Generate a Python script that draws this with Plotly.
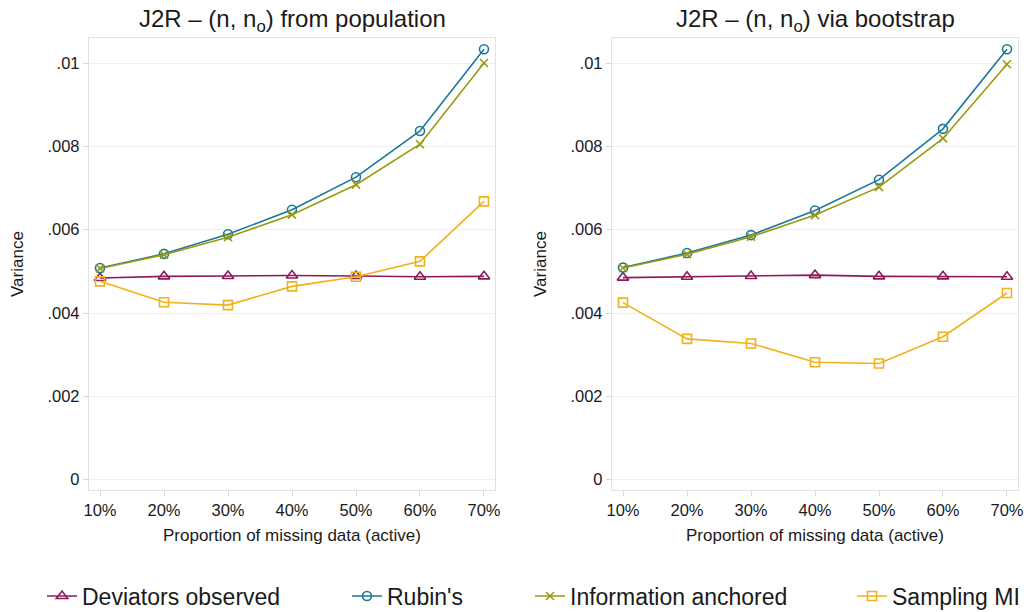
import plotly.graph_objects as go

# ---- data ----
proportions = [10, 20, 30, 40, 50, 60, 70]
x_tick_labels = ["10%", "20%", "30%", "40%", "50%", "60%", "70%"]
y_tick_values = [0, 0.002, 0.004, 0.006, 0.008, 0.01]
y_tick_labels = ["0", ".002", ".004", ".006", ".008", ".01"]

series_names = ["Deviators observed", "Rubin's", "Information anchored", "Sampling MI"]

# Panel 1: from population
pop_deviators = [0.00484, 0.00488, 0.00489, 0.00490, 0.00489, 0.00487, 0.00488]
pop_rubin = [0.00508, 0.00542, 0.00589, 0.00648, 0.00726, 0.00837, 0.01033]
pop_info = [0.00507, 0.00540, 0.00582, 0.00636, 0.00708, 0.00805, 0.01000]
pop_sampling = [0.00476, 0.00426, 0.00419, 0.00464, 0.00487, 0.00524, 0.00668]

# Panel 2: via bootstrap
boot_deviators = [0.00485, 0.00487, 0.00489, 0.00491, 0.00488, 0.00488, 0.00487]
boot_rubin = [0.00509, 0.00544, 0.00587, 0.00646, 0.00720, 0.00842, 0.01033]
boot_info = [0.00508, 0.00541, 0.00583, 0.00635, 0.00702, 0.00819, 0.00997]
boot_sampling = [0.00425, 0.00338, 0.00327, 0.00282, 0.00279, 0.00343, 0.00448]

titles = ["J2R \u2013 (n, n<sub>o</sub>) from population",
          "J2R \u2013 (n, n<sub>o</sub>) via bootstrap"]
x_title = "Proportion of missing data (active)"
y_title = "Variance"

# ---- styles ----
colors = ["#8E1A5E", "#1B7896", "#9A9A0E", "#EFB21A"]
symbols = ["triangle-up-open", "circle-open", "x-thin-open", "square-open"]
sizes = [10, 9, 8, 9]
FONT = "Liberation Sans, Arial, Helvetica, sans-serif"
TXT = "#1a1a1a"

W, H = 1031, 612
dom_x = [[89 / W, 495 / W], [612 / W, 1018 / W]]
dom_y = [1 - 490 / H, 1 - 38 / H]

legend_ids = ["legend", "legend2", "legend3", "legend4"]
legend_text_start = [83, 388, 571, 893]  # pixel x where each legend label begins

fig = go.Figure()
panels = [
    [pop_deviators, pop_rubin, pop_info, pop_sampling],
    [boot_deviators, boot_rubin, boot_info, boot_sampling],
]
for p, data in enumerate(panels):
    xa = "x" if p == 0 else "x2"
    ya = "y" if p == 0 else "y2"
    for i, vals in enumerate(data):
        fig.add_trace(go.Scatter(
            x=proportions, y=vals, mode="lines+markers",
            name=series_names[i], legendgroup=series_names[i],
            legend=legend_ids[i],
            showlegend=(p == 0),
            line=dict(color=colors[i], width=1.6),
            marker=dict(symbol=symbols[i], size=sizes[i], color=colors[i],
                        line=dict(color=colors[i], width=1.6)),
            xaxis=xa, yaxis=ya,
        ))

axis_common_x = dict(
    range=[8.28, 71.72], tickmode="array", tickvals=proportions, ticktext=x_tick_labels,
    showgrid=False, zeroline=False, showline=True, mirror=True, automargin=False,
    linecolor="#e2e2e2", linewidth=1.3, ticks="outside", ticklen=5, tickcolor="#d8d8d8",
    tickfont=dict(family=FONT, size=16.5, color=TXT), fixedrange=True,
)
axis_common_y = dict(
    range=[-0.000247, 0.0106], tickmode="array", tickvals=y_tick_values, ticktext=y_tick_labels,
    showgrid=True, gridcolor="#eeeeee", gridwidth=1, zeroline=False, showline=True, mirror=True,
    automargin=False,
    linecolor="#e2e2e2", linewidth=1.3, ticks="outside", ticklen=5, tickcolor="#d8d8d8",
    tickfont=dict(family=FONT, size=16.5, color=TXT), fixedrange=True,
)

layout_legends = {}
for i, lid in enumerate(legend_ids):
    layout_legends[lid] = dict(
        orientation="h", x=(legend_text_start[i] - 41) / W, xanchor="left",
        y=1 - 596 / H, yanchor="middle",
        font=dict(family=FONT, size=23, color=TXT),
        bgcolor="rgba(0,0,0,0)", borderwidth=0,
    )

fig.update_layout(
    width=W, height=H,
    paper_bgcolor="white", plot_bgcolor="white",
    margin=dict(l=0, r=0, t=0, b=0, autoexpand=False),
    font=dict(family=FONT, color=TXT),
    xaxis=dict(domain=dom_x[0], anchor="y", **axis_common_x),
    yaxis=dict(domain=dom_y, anchor="x", **axis_common_y),
    xaxis2=dict(domain=dom_x[1], anchor="y2", **axis_common_x),
    yaxis2=dict(domain=dom_y, anchor="x2", **axis_common_y),
    showlegend=True,
    hovermode=False,
    **layout_legends,
)

annotations = []
for p in range(2):
    cx = (dom_x[p][0] + dom_x[p][1]) / 2
    annotations.append(dict(text=titles[p], x=cx, y=1 - 21 / H, xref="paper", yref="paper",
                            xanchor="center", yanchor="middle", showarrow=False,
                            font=dict(family=FONT, size=24, color=TXT)))
    annotations.append(dict(text=x_title, x=cx, y=1 - 535 / H, xref="paper", yref="paper",
                            xanchor="center", yanchor="middle", showarrow=False,
                            font=dict(family=FONT, size=17, color=TXT)))
    yx = 17 / W if p == 0 else 540 / W
    annotations.append(dict(text=y_title, x=yx, y=1 - 264 / H, xref="paper", yref="paper",
                            xanchor="center", yanchor="middle", showarrow=False, textangle=-90,
                            font=dict(family=FONT, size=17, color=TXT)))
fig.update_layout(annotations=annotations)

fig.write_html(
    "out.html",
    config={"displayModeBar": False, "staticPlot": False},
    post_script="document.body.style.margin='0';document.body.style.overflow='hidden';",
)
